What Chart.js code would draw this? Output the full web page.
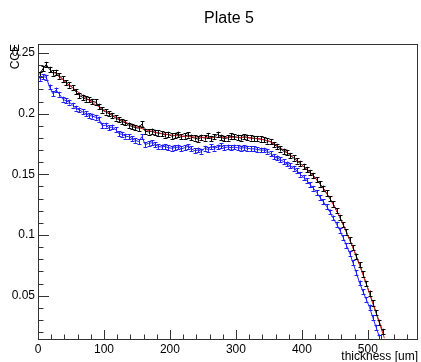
<!DOCTYPE html>
<html>
<head>
<meta charset="utf-8">
<script src="https://cdn.jsdelivr.net/npm/chart.js@4"></script>
<style>
  html, body { margin: 0; padding: 0; background: #fff; }
</style>
</head>
<body>
<canvas id="plot" width="421" height="362"></canvas>
<script>
// thickness bins (um), 5 um wide
let thickness = [];
for (let i = 0; i < 105; i++) thickness.push(2.5 + 5 * i);

// black points (CCE)
let cceBlack = [
  0.2325, 0.2370, 0.2405, 0.2365, 0.2335, 0.2340, 0.2310, 0.2285, 0.2255, 0.2235,
  0.2215, 0.2180, 0.2150, 0.2135, 0.2120, 0.2115, 0.2100, 0.2095, 0.2060, 0.2030,
  0.2015, 0.2000, 0.1985, 0.1965, 0.1950, 0.1935, 0.1925, 0.1905, 0.1895, 0.1885,
  0.1880, 0.1915, 0.1855, 0.1850, 0.1855, 0.1845, 0.1840, 0.1835, 0.1825, 0.1830,
  0.1815, 0.1820, 0.1830, 0.1810, 0.1815, 0.1825, 0.1805, 0.1800, 0.1790, 0.1805,
  0.1800, 0.1820, 0.1795, 0.1810, 0.1830, 0.1805, 0.1795, 0.1800, 0.1815, 0.1810,
  0.1805, 0.1800, 0.1810, 0.1805, 0.1800, 0.1795, 0.1795, 0.1790, 0.1785, 0.1775,
  0.1770, 0.1745, 0.1730, 0.1710, 0.1690, 0.1680, 0.1655, 0.1635, 0.1610, 0.1590,
  0.1565, 0.1540, 0.1515, 0.1490, 0.1455, 0.1420, 0.1385, 0.1345, 0.1300, 0.1255,
  0.1200, 0.1145, 0.1085, 0.1025, 0.0960, 0.0895, 0.0825, 0.0755, 0.0680, 0.0600,
  0.0520, 0.0440, 0.0360, 0.0280, 0.0205
];

// blue points (CCE)
let cceBlue = [
  0.2290, 0.2305, 0.2300, 0.2220, 0.2165, 0.2195, 0.2160, 0.2120, 0.2105, 0.2095,
  0.2070, 0.2045, 0.2030, 0.2015, 0.2000, 0.1985, 0.1980, 0.1970, 0.1955, 0.1900,
  0.1905, 0.1885, 0.1890, 0.1870, 0.1835, 0.1830, 0.1815, 0.1810, 0.1795, 0.1780,
  0.1770, 0.1810, 0.1745, 0.1755, 0.1760, 0.1745, 0.1730, 0.1725, 0.1730, 0.1720,
  0.1715, 0.1720, 0.1725, 0.1710, 0.1720, 0.1730, 0.1710, 0.1695, 0.1700, 0.1690,
  0.1715, 0.1705, 0.1730, 0.1715, 0.1725, 0.1735, 0.1720, 0.1725, 0.1720, 0.1725,
  0.1720, 0.1715, 0.1720, 0.1715, 0.1710, 0.1710, 0.1705, 0.1700, 0.1700, 0.1690,
  0.1670, 0.1645, 0.1635, 0.1620, 0.1605, 0.1585, 0.1570, 0.1550, 0.1530, 0.1500,
  0.1475, 0.1450, 0.1415, 0.1385, 0.1350, 0.1310, 0.1275, 0.1235, 0.1190, 0.1140,
  0.1090, 0.1040, 0.0980, 0.0915, 0.0850, 0.0770, 0.0690, 0.0605, 0.0535, 0.0470,
  0.0405, 0.0320, 0.0240, 0.0160
];

// red fit curve
let fitX = [25, 50, 75, 100, 125, 150, 175, 200, 225, 250, 275, 300, 325, 350, 375, 400, 425, 450, 475, 500, 525];
let fitY = [0.2335, 0.2225, 0.2120, 0.2030, 0.1950, 0.1890, 0.1850, 0.1825, 0.1812, 0.1805, 0.1805,
            0.1805, 0.1798, 0.1772, 0.1690, 0.1578, 0.1438, 0.1228, 0.0928, 0.0560, 0.0150];

let errBlack = 0.0022;
let errBlue = 0.0020;

let xMajor = [0, 100, 200, 300, 400, 500];
let yMajor = [0.05, 0.1, 0.15, 0.2, 0.25];

const FONT = '"Liberation Sans", Arial, Helvetica, sans-serif';

let toPoints = (xs, ys) => ys.map((v, i) => ({x: xs[i], y: v}));

// error bars with small caps, drawn through the scales
let errorBars = {
  id: 'errorBars',
  afterDatasetsDraw(chart) {
    const ctx = chart.ctx;
    const area = chart.chartArea;
    const ys = chart.scales.y;
    ctx.save();
    ctx.beginPath();
    ctx.rect(area.left, area.top, area.right - area.left, area.bottom - area.top);
    ctx.clip();
    chart.data.datasets.forEach((ds, di) => {
      if (!ds.errY) return;
      const meta = chart.getDatasetMeta(di);
      ctx.strokeStyle = ds.borderColor;
      ctx.lineWidth = 1;
      meta.data.forEach((pt, i) => {
        const v = ds.data[i].y;
        const top = ys.getPixelForValue(v + ds.errY);
        const bot = ys.getPixelForValue(v - ds.errY);
        const x = Math.round(pt.x) + 0.5;
        ctx.beginPath();
        ctx.moveTo(x, top); ctx.lineTo(x, bot);
        ctx.moveTo(x - 2, Math.round(top) + 0.5); ctx.lineTo(x + 2, Math.round(top) + 0.5);
        ctx.moveTo(x - 2, Math.round(bot) + 0.5); ctx.lineTo(x + 2, Math.round(bot) + 0.5);
        ctx.stroke();
      });
    });
    ctx.restore();
  }
};

// ROOT style frame, inward ticks, title and axis titles
let rootFrame = {
  id: 'rootFrame',
  afterDraw(chart) {
    const ctx = chart.ctx;
    const a = chart.chartArea;
    const xs = chart.scales.x;
    const ys = chart.scales.y;
    ctx.save();
    ctx.strokeStyle = '#333';
    ctx.lineWidth = 1;
    ctx.strokeRect(a.left + 0.5, a.top + 0.5, a.right - a.left - 1, a.bottom - a.top);

    ctx.beginPath();
    for (let v = 0; v <= xs.max; v += 20) {
      const px = Math.round(xs.getPixelForValue(v)) + 0.5;
      const len = (v % 100 === 0) ? 9 : 4.5;
      ctx.moveTo(px, a.bottom); ctx.lineTo(px, a.bottom - len);
    }
    for (let k = 2; k <= 25; k++) {
      const v = k / 100;
      const py = Math.round(ys.getPixelForValue(v)) + 0.5;
      const len = (k % 5 === 0) ? 11 : 5.5;
      ctx.moveTo(a.left, py); ctx.lineTo(a.left + len, py);
    }
    ctx.stroke();

    ctx.fillStyle = '#000';
    ctx.font = '16px ' + FONT;
    ctx.textAlign = 'center';
    ctx.textBaseline = 'middle';
    ctx.fillText('Plate 5', 229, 19);

    ctx.font = '12px ' + FONT;
    ctx.textAlign = 'right';
    ctx.textBaseline = 'top';
    ctx.fillText('thickness [um]', a.right, 351);

    ctx.translate(16, a.top);
    ctx.rotate(-Math.PI / 2);
    ctx.textAlign = 'right';
    ctx.textBaseline = 'middle';
    ctx.fillText('CCE', 0, 0);
    ctx.restore();
  }
};

let config = {
  type: 'line',
  data: {
    datasets: [
      {
        label: 'black',
        data: toPoints(thickness, cceBlack),
        borderColor: '#000',
        borderWidth: 1,
        pointRadius: 0,
        tension: 0,
        order: 1,
        errY: errBlack
      },
      {
        label: 'blue',
        data: toPoints(thickness, cceBlue),
        borderColor: 'rgb(30,30,255)',
        borderWidth: 1,
        pointRadius: 0,
        tension: 0,
        order: 2,
        errY: errBlue
      },
      {
        label: 'fit',
        data: toPoints(fitX, fitY),
        borderColor: 'rgb(230,30,30)',
        borderWidth: 1,
        pointRadius: 0,
        order: 0,
        cubicInterpolationMode: 'monotone'
      }
    ]
  },
  options: {
    responsive: false,
    animation: false,
    devicePixelRatio: 1,
    layout: { padding: { top: 44, right: 3, left: 0, bottom: 0 } },
    plugins: { legend: { display: false }, title: { display: false }, tooltip: { enabled: false } },
    scales: {
      x: {
        type: 'linear',
        min: 0,
        max: 576,
        grid: { display: false, drawTicks: false },
        border: { display: false },
        ticks: { font: { family: FONT, size: 12 }, color: '#000', padding: 3, maxRotation: 0,
                  callback: v => String(v) },
        afterBuildTicks: s => { s.ticks = xMajor.map(v => ({value: v})); },
        afterFit: s => { s.height = 23; }
      },
      y: {
        type: 'linear',
        min: 0.0143,
        max: 0.2574,
        grid: { display: false, drawTicks: false },
        border: { display: false },
        ticks: { font: { family: FONT, size: 12 }, color: '#000', padding: 3,
                 callback: v => String(Math.round(v * 100) / 100) },
        afterBuildTicks: s => { s.ticks = yMajor.map(v => ({value: v})); },
        afterFit: s => { s.width = 38; }
      }
    }
  },
  plugins: [errorBars, rootFrame]
};

let chart1 = new Chart(document.getElementById('plot'), config);
</script>
</body>
</html>
